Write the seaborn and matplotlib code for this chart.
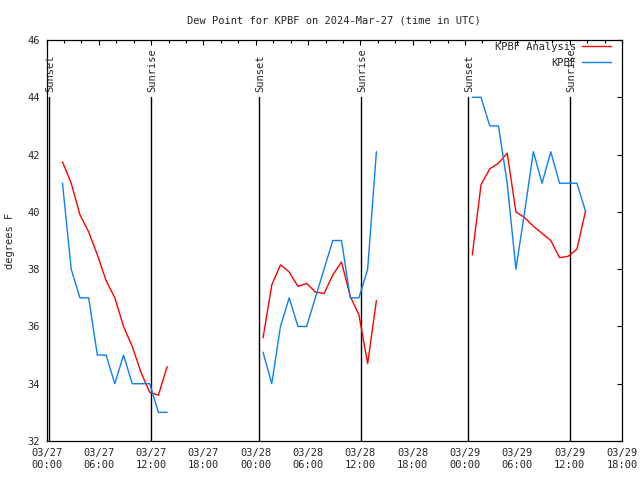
import matplotlib
matplotlib.use("Agg")
import matplotlib.pyplot as plt
import pandas as pd
import seaborn as sns

START = pd.Timestamp("2024-03-27 00:00")

# hourly segments (first timestamp of each run)
seg_starts = ["2024-03-27 01:50", "2024-03-28 00:50", "2024-03-29 00:50"]

analysis_1 = [41.75, 41.0, 39.9, 39.3, 38.5, 37.6, 37.0, 36.0, 35.3, 34.4, 33.7, 33.6, 34.6]
analysis_2 = [35.6, 37.45, 38.15, 37.9, 37.4, 37.5, 37.2, 37.15, 37.8, 38.25, 37.05, 36.4, 34.7, 36.9]
analysis_3 = [38.5, 40.95, 41.5, 41.7, 42.05, 40.0, 39.8, 39.5, 39.25, 39.0, 38.4, 38.45, 38.7, 40.05]

obs_1 = [41, 38, 37, 37, 35, 35, 34, 35, 34, 34, 34, 33, 33]
obs_2 = [35.1, 34, 36, 37, 36, 36, 37, 38, 39, 39, 37, 37, 38, 42.1]
obs_3 = [44, 44, 43, 43, 41, 38, 40, 42.1, 41, 42.1, 41, 41, 41, 40]

sun_labels = ["Sunset", "Sunrise", "Sunset", "Sunrise", "Sunset", "Sunrise"]
sun_times = ["2024-03-27 00:19", "2024-03-27 12:02", "2024-03-28 00:19",
             "2024-03-28 12:03", "2024-03-29 00:17", "2024-03-29 12:00"]

tick_labels = ["03/27\n00:00", "03/27\n06:00", "03/27\n12:00", "03/27\n18:00",
               "03/28\n00:00", "03/28\n06:00", "03/28\n12:00", "03/28\n18:00",
               "03/29\n00:00", "03/29\n06:00", "03/29\n12:00", "03/29\n18:00"]


def hours(t):
    return (pd.to_datetime(t) - START) / pd.Timedelta(hours=1)


def build():
    frames = []
    series = {"KPBF Analysis": [analysis_1, analysis_2, analysis_3],
              "KPBF": [obs_1, obs_2, obs_3]}
    for name, segs in series.items():
        for i, (start, vals) in enumerate(zip(seg_starts, segs)):
            t = pd.date_range(start, periods=len(vals), freq="h")
            frames.append(pd.DataFrame({"hours": hours(t), "dewpoint": vals,
                                        "series": name, "segment": i}))
    return pd.concat(frames, ignore_index=True)


def main():
    df = build()
    sns.set_style("white")
    plt.rcParams["font.family"] = ["DejaVu Sans Mono"]
    plt.rcParams["font.size"] = 7.5

    fig = plt.figure(figsize=(6.4, 4.8), dpi=100)
    ax = fig.add_axes([46.5 / 640, 1 - 441 / 480, 575.5 / 640, 401 / 480])

    for lab, t in zip(sun_labels, sun_times):
        h = hours(t)
        ax.plot([h, h], [32, 44], color="black", lw=1.0)
        ax.text(h + 0.15, 44.2, lab, rotation=90, ha="center", va="bottom",
                fontsize=7.5)

    sns.lineplot(data=df, x="hours", y="dewpoint", hue="series",
                 hue_order=["KPBF Analysis", "KPBF"], units="segment",
                 estimator=None, palette={"KPBF Analysis": "#ff0000",
                                          "KPBF": "#0a7ff7"},
                 linewidth=1.0, ax=ax)

    ax.set_xlim(0, 66)
    ax.set_ylim(32, 46)
    ax.set_xticks(range(0, 67, 6))
    ax.set_xticklabels(tick_labels)
    ax.set_xticks(range(0, 67, 2), minor=True)
    ax.set_yticks(range(32, 47, 2))
    ax.tick_params(which="both", direction="in", top=True, right=True,
                   color="black", width=0.8, labelsize=7.5)
    ax.tick_params(which="major", length=3.5, pad=5)
    ax.tick_params(which="minor", length=2.2)
    for s in ax.spines.values():
        s.set_color("black")
        s.set_linewidth(0.9)

    ax.set_xlabel("")
    ax.set_ylabel("degrees F", fontsize=7.5, labelpad=9)
    ax.set_title("Dew Point for KPBF on 2024-Mar-27 (time in UTC)",
                 fontsize=7.5, pad=12)

    handles, labels = ax.get_legend_handles_labels()
    ax.legend(handles, labels, loc="upper right",
              bbox_to_anchor=(0.985, 1.0), frameon=False,
              markerfirst=False, handlelength=2.8, handletextpad=0.6,
              labelspacing=0.55, borderaxespad=0.0, borderpad=0.2,
              fontsize=7.5)

    plt.savefig("out.png", dpi=100)
    plt.close()


if __name__ == "__main__":
    main()
